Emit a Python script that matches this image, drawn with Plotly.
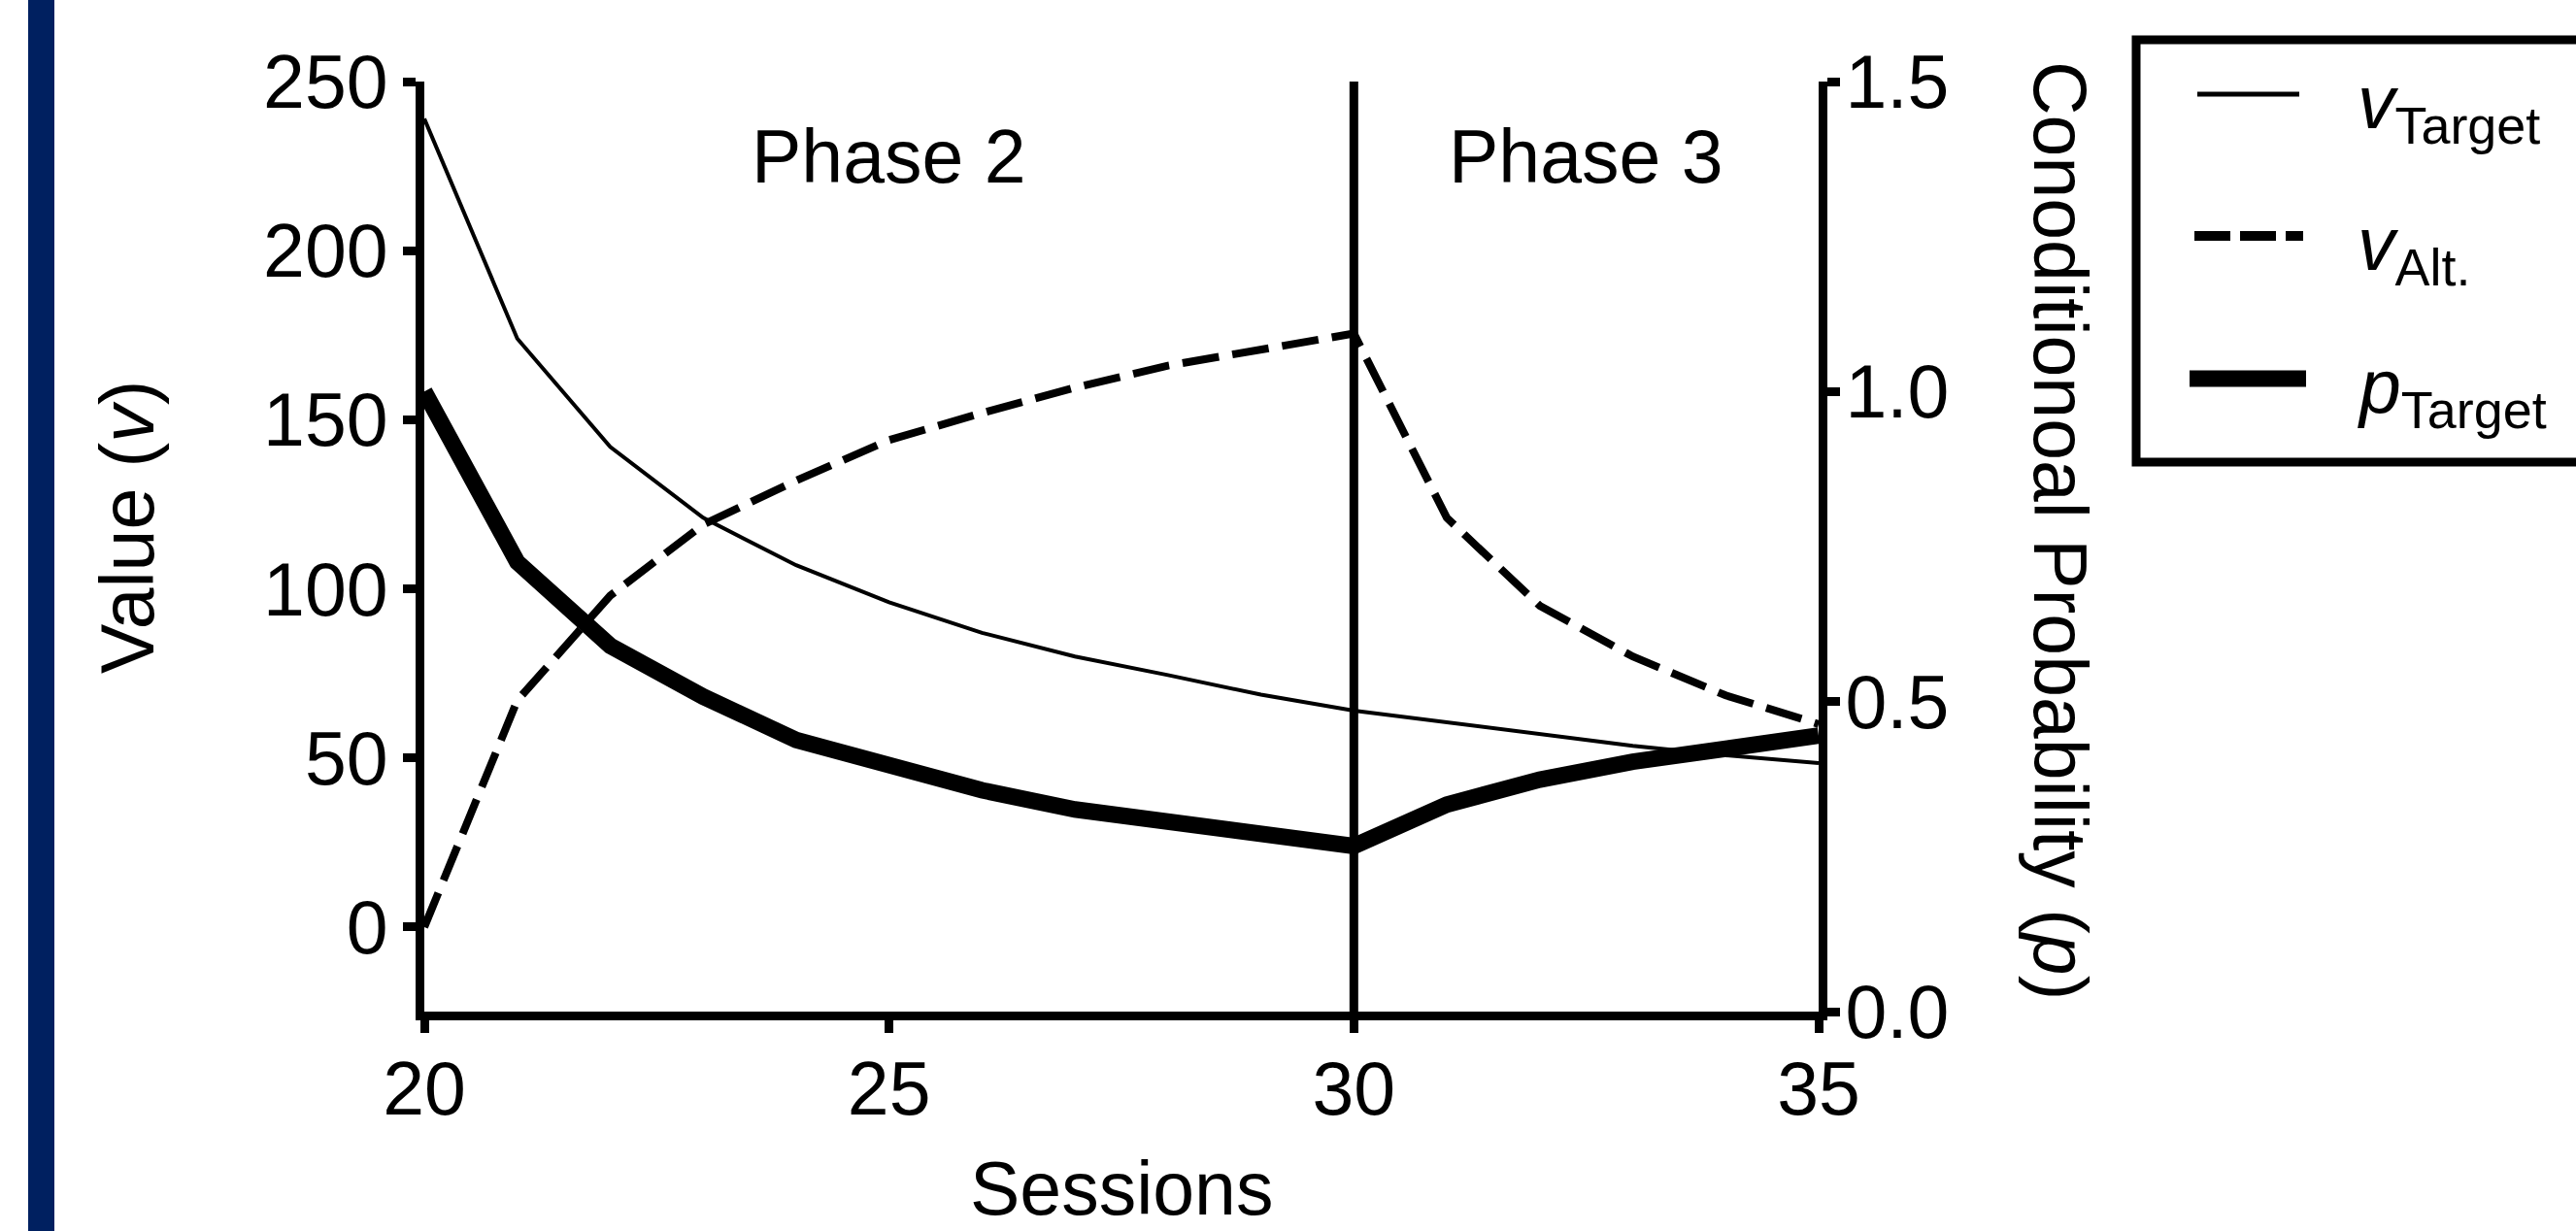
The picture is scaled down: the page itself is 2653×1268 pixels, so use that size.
import plotly.graph_objects as go

# ---------------- data ----------------
sessions = list(range(20, 36))
v_target = [239, 174, 142, 121, 107, 96, 87, 80, 74.5, 68.7, 64, 60.6, 57.1, 53.6, 50.8, 48.5]
v_alt = [0, 67, 98, 119, 132, 144, 152, 159.5, 166, 171, 175.5, 121, 95, 80, 68.5, 60]
p_target = [1.0, 0.725, 0.59, 0.508, 0.438, 0.395, 0.357, 0.326, 0.305, 0.285, 0.267,
            0.334, 0.374, 0.403, 0.426, 0.445]

x_ticks = [20, 25, 30, 35]
y_left_ticks = [0, 50, 100, 150, 200, 250]
y_right_ticks = [0.0, 0.5, 1.0, 1.5]
y_right_labels = ["0.0", "0.5", "1.0", "1.5"]
phase_boundary = 30
phase_labels = ["Phase 2", "Phase 3"]
phase_label_x = [25, 32.5]
phase_label_y = 228
legend_labels = ["<i>v</i><sub>Target</sub>", "<i>v</i><sub>Alt.</sub>", "<i>p</i><sub>Target</sub>"]

# ---------------- layout geometry ----------------
W, H = 2653, 1268
L, R, T, B = 437, 1873, 84, 1042
PW, PH = R - L, B - T
FONT = "Arial, Liberation Sans, sans-serif"
FS = 77


def px(xp):
    return (xp - L) / PW


def py(yp):
    return (B - yp) / PH


fig = go.Figure()
fig.add_trace(go.Scatter(x=sessions, y=v_target, mode="lines", name="vTarget",
                         line=dict(color="black", width=4), yaxis="y"))
fig.add_trace(go.Scatter(x=sessions, y=v_alt, mode="lines", name="vAlt.",
                         line=dict(color="black", width=8, dash="38px,14px"), yaxis="y"))
fig.add_trace(go.Scatter(x=sessions, y=p_target, mode="lines", name="pTarget",
                         line=dict(color="black", width=17), yaxis="y2"))

axis_common = dict(showline=True, linewidth=9, linecolor="black", ticks="outside",
                   ticklen=13, tickwidth=9, tickcolor="black", showgrid=False,
                   zeroline=False, tickfont=dict(family=FONT, size=FS, color="black"))

shapes = []
# navy band on the left
shapes.append(dict(type="rect", xref="paper", yref="paper", x0=px(29), x1=px(56),
                   y0=py(H + 10), y1=py(-10), fillcolor="#002060", line=dict(width=0)))
# phase boundary
shapes.append(dict(type="line", xref="x", yref="y", x0=phase_boundary, x1=phase_boundary,
                   y0=-25, y1=250, line=dict(color="black", width=9)))
# legend box
shapes.append(dict(type="rect", xref="paper", yref="paper", x0=px(2200), x1=px(2720),
                   y0=py(476), y1=py(41), line=dict(color="black", width=9),
                   fillcolor="rgba(0,0,0,0)"))
# legend samples
shapes.append(dict(type="line", xref="paper", yref="paper", x0=px(2263), x1=px(2368),
                   y0=py(97), y1=py(97), line=dict(color="black", width=5)))
shapes.append(dict(type="line", xref="paper", yref="paper", x0=px(2260), x1=px(2372),
                   y0=py(243), y1=py(243), line=dict(color="black", width=10, dash="37px,10px")))
shapes.append(dict(type="line", xref="paper", yref="paper", x0=px(2255), x1=px(2375),
                   y0=py(390), y1=py(390), line=dict(color="black", width=17)))

annotations = []
for lab, xv in zip(phase_labels, phase_label_x):
    annotations.append(dict(x=xv, y=phase_label_y, xref="x", yref="y", text=lab,
                            showarrow=False, font=dict(family=FONT, size=FS, color="black"),
                            xanchor="center", yanchor="middle"))
annotations.append(dict(x=px(1155), y=py(1224), xref="paper", yref="paper", text="Sessions",
                        showarrow=False, font=dict(family=FONT, size=FS, color="black"),
                        xanchor="center", yanchor="middle"))
annotations.append(dict(x=px(131), y=py(543), xref="paper", yref="paper", text="Value (<i>v</i>)",
                        showarrow=False, textangle=-90,
                        font=dict(family=FONT, size=FS, color="black"),
                        xanchor="center", yanchor="middle"))
annotations.append(dict(x=px(2122), y=py(546), xref="paper", yref="paper",
                        text="Conoditionoal Probability (<i>p</i>)",
                        showarrow=False, textangle=90,
                        font=dict(family=FONT, size=FS, color="black"),
                        xanchor="center", yanchor="middle"))
for lab, yp in zip(legend_labels, [110, 256, 403]):
    annotations.append(dict(x=px(2426), y=py(yp), xref="paper", yref="paper", text=lab,
                            showarrow=False, font=dict(family=FONT, size=FS, color="black"),
                            xanchor="left", yanchor="middle"))

fig.update_layout(
    width=W, height=H,
    margin=dict(l=L, r=W - R, t=T, b=H - B, pad=0),
    paper_bgcolor="white", plot_bgcolor="white",
    showlegend=False,
    xaxis=dict(range=[20, 35], tickvals=x_ticks, ticklabelstandoff=-8, **axis_common),
    yaxis=dict(range=[-25, 250], tickvals=y_left_ticks, **axis_common),
    yaxis2=dict(range=[0, 1.5], tickvals=y_right_ticks, ticktext=y_right_labels,
                overlaying="y", side="right", ticklabelstandoff=-10, **axis_common),
    shapes=shapes,
    annotations=annotations,
)

fig.write_html("out.html", config={"displayModeBar": False},
               post_script="document.body.style.margin='0';document.body.style.overflow='hidden';")
